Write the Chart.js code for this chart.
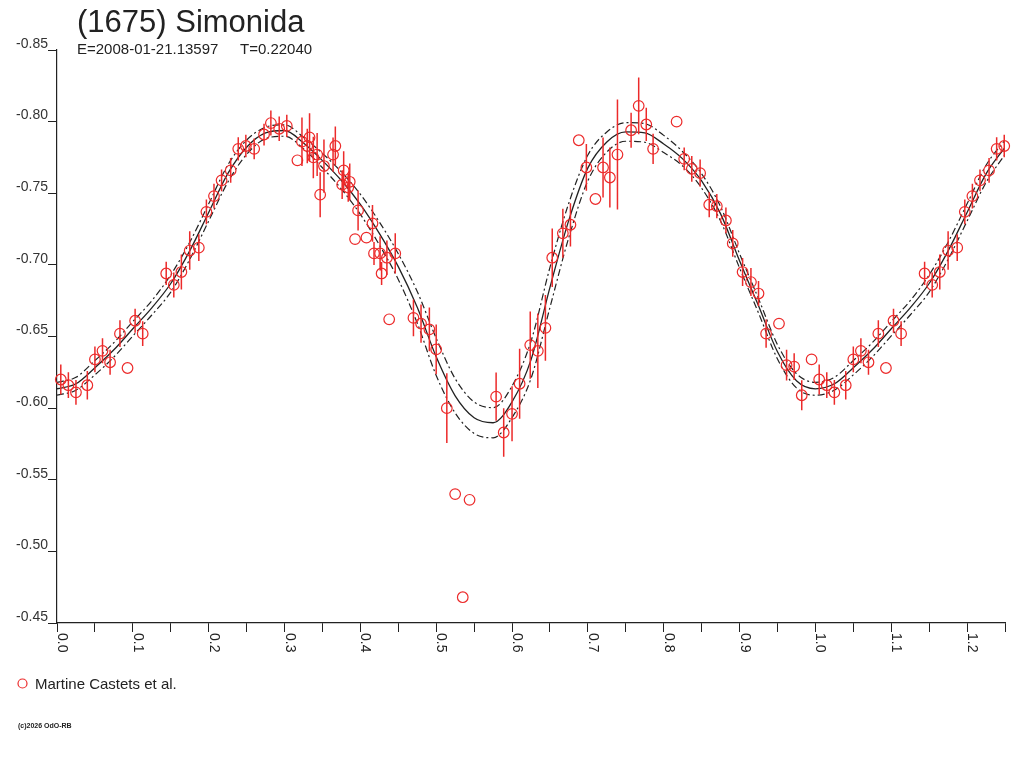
<!DOCTYPE html>
<html>
<head>
<meta charset="utf-8">
<title>(1675) Simonida</title>
<script src="https://cdn.jsdelivr.net/npm/chart.js@4.4.1/dist/chart.umd.min.js"></script>
<style>
  html, body { margin: 0; padding: 0; background: #fff; }
  #wrap { position: relative; width: 1024px; height: 768px; }
</style>
</head>
<body>
<div id="wrap"><canvas id="lc" width="1024" height="768"></canvas></div>
<script>
const title = '(1675) Simonida';
const epoch = 'E=2008-01-21.13597';
const period = 'T=0.22040';
const observer = 'Martine Castets et al.';
const credit = '(c)2026 OdO-RB';

// observations over one cycle; phases below 0.25 are shown again after 1.0
const obsPhase = [0.005, 0.015, 0.025, 0.040, 0.050, 0.060, 0.070, 0.083, 0.093, 0.103,
  0.113, 0.144, 0.154, 0.164, 0.175, 0.187, 0.197, 0.207, 0.217, 0.229,
  0.239, 0.249, 0.260, 0.273, 0.282, 0.293, 0.303, 0.317, 0.323, 0.330,
  0.333, 0.338, 0.343, 0.347, 0.352, 0.364, 0.367, 0.376, 0.378, 0.384,
  0.386, 0.393, 0.397, 0.408, 0.416, 0.418, 0.426, 0.428, 0.435, 0.438,
  0.446, 0.470, 0.480, 0.491, 0.500, 0.514, 0.525, 0.535, 0.544, 0.579,
  0.589, 0.600, 0.610, 0.624, 0.634, 0.644, 0.653, 0.667, 0.677, 0.688,
  0.698, 0.710, 0.720, 0.729, 0.739, 0.757, 0.767, 0.777, 0.786, 0.817,
  0.827, 0.837, 0.848, 0.860, 0.870, 0.882, 0.891, 0.904, 0.915, 0.925,
  0.935, 0.952, 0.962, 0.972, 0.982, 0.995];
const obsMag = [-0.620, -0.616, -0.611, -0.616, -0.634, -0.640, -0.632, -0.652, -0.628, -0.661,
  -0.652, -0.694, -0.686, -0.695, -0.710, -0.712, -0.737, -0.748, -0.759, -0.766,
  -0.781, -0.783, -0.781, -0.791, -0.799, -0.795, -0.797, -0.773, -0.786, -0.783,
  -0.789, -0.775, -0.777, -0.749, -0.769, -0.777, -0.783, -0.756, -0.766, -0.754,
  -0.758, -0.718, -0.738, -0.719, -0.729, -0.708, -0.708, -0.694, -0.705, -0.662,
  -0.708, -0.663, -0.659, -0.655, -0.641, -0.600, -0.540, -0.468, -0.536, -0.608,
  -0.583, -0.596, -0.617, -0.644, -0.640, -0.656, -0.705, -0.722, -0.728, -0.787,
  -0.768, -0.746, -0.768, -0.761, -0.777, -0.794, -0.811, -0.798, -0.781, -0.800,
  -0.774, -0.767, -0.764, -0.742, -0.741, -0.731, -0.715, -0.695, -0.688, -0.680,
  -0.652, -0.659, -0.630, -0.629, -0.609, -0.634];
const obsErr = [0.0105, 0.009, 0.0087, 0.010, 0.009, 0.0087, 0.0087, 0.0093, 0, 0.0084,
  0.0087, 0.0081, 0.0087, 0.0122, 0.0134, 0.0093, 0.0087, 0.0087, 0.0076, 0.0086,
  0.0081, 0.0079, 0.0073, 0.0076, 0.0087, 0.0086, 0.0078, 0, 0.0169, 0.012,
  0.0169, 0.0145, 0.015, 0.0157, 0.0186, 0.012, 0.0136, 0.010, 0.0134, 0.010,
  0.0128, 0, 0.014, 0, 0.0128, 0.008, 0.012, 0.008, 0.012, 0,
  0.014, 0.0128, 0.0133, 0.0153, 0.0174, 0.0244, 0, 0, 0, 0.0169,
  0.0169, 0.0192, 0.0244, 0.0235, 0.026, 0.023, 0.0204, 0.0171, 0.0151, 0,
  0.0163, 0, 0.021, 0.021, 0.0384, 0.0122, 0.0198, 0.0116, 0.0105, 0,
  0.0079, 0.009, 0.0095, 0.0087, 0.0085, 0.009, 0.0093, 0.0098, 0.0098, 0.0087,
  0.0098, 0, 0.0107, 0.0093, 0.0105, 0];

// fitted curve and its envelope, read every 0.025 in phase
const fitPhase = [0, 0.025, 0.05, 0.075, 0.1, 0.125, 0.15, 0.175, 0.2, 0.225,
  0.25, 0.275, 0.3, 0.325, 0.35, 0.375, 0.4, 0.425, 0.45, 0.475,
  0.5, 0.525, 0.55, 0.575, 0.6, 0.625, 0.65, 0.675, 0.7, 0.725,
  0.75, 0.775, 0.8, 0.825, 0.85, 0.875, 0.9, 0.925, 0.95, 0.975, 1.0];
const fitMag = [-0.6135, -0.6170, -0.6282, -0.6407, -0.6554, -0.6700, -0.6870, -0.7098, -0.7366, -0.7635,
  -0.7821, -0.7921, -0.7938, -0.7851, -0.7728, -0.7589, -0.7423, -0.7220, -0.6988, -0.6704,
  -0.6358, -0.6086, -0.5933, -0.5898, -0.6044, -0.6337, -0.6843, -0.7314, -0.7677, -0.7858,
  -0.7928, -0.7921, -0.7844, -0.7740, -0.7586, -0.7356, -0.7028, -0.6714, -0.6393, -0.6191, -0.6135];
const fitUpper = [-0.6180, -0.6215, -0.6332, -0.6457, -0.6604, -0.6750, -0.6930, -0.7158, -0.7426, -0.7695,
  -0.7871, -0.7961, -0.7978, -0.7891, -0.7778, -0.7649, -0.7493, -0.7300, -0.7078, -0.6814,
  -0.6488, -0.6206, -0.6043, -0.6003, -0.6154, -0.6467, -0.6983, -0.7434, -0.7767, -0.7928,
  -0.7993, -0.7986, -0.7904, -0.7790, -0.7636, -0.7406, -0.7078, -0.6764, -0.6443, -0.6241, -0.6180];
const fitLower = [-0.6090, -0.6125, -0.6232, -0.6357, -0.6504, -0.6650, -0.6810, -0.7038, -0.7306, -0.7575,
  -0.7771, -0.7881, -0.7898, -0.7811, -0.7678, -0.7529, -0.7353, -0.7140, -0.6898, -0.6594,
  -0.6228, -0.5966, -0.5823, -0.5793, -0.5934, -0.6207, -0.6703, -0.7194, -0.7587, -0.7788,
  -0.7863, -0.7856, -0.7784, -0.7690, -0.7536, -0.7306, -0.6978, -0.6664, -0.6343, -0.6141, -0.6090];

const xTicks = [0, 0.05, 0.1, 0.15, 0.2, 0.25, 0.3, 0.35, 0.4, 0.45, 0.5, 0.55, 0.6,
  0.65, 0.7, 0.75, 0.8, 0.85, 0.9, 0.95, 1.0, 1.05, 1.1, 1.15, 1.2, 1.25];
const xLabels = ['0.0', '0.1', '0.2', '0.3', '0.4', '0.5', '0.6', '0.7', '0.8', '0.9', '1.0', '1.1', '1.2'];
const yTicks = [-0.85, -0.80, -0.75, -0.70, -0.65, -0.60, -0.55, -0.50, -0.45];

const RED = '#ec2a2a';
const INK = '#222';
const FONT = '"Liberation Sans", Arial, sans-serif';

// points and error bars, repeating the start of the cycle past 1.0
const obsPts = [];
const barPts = [];
obsPhase.forEach((p, i) => {
  const reps = p < 0.25 ? [p, p + 1] : [p];
  reps.forEach(x => {
    obsPts.push({ x: x, y: obsMag[i] });
    if (obsErr[i] > 0) {
      barPts.push({ x: x, y: obsMag[i] - obsErr[i] }, { x: x, y: obsMag[i] + obsErr[i] }, { x: x, y: null });
    }
  });
});

function curve(vals) {
  const out = fitPhase.map((p, i) => ({ x: p, y: vals[i] }));
  fitPhase.forEach((p, i) => {
    if (p > 0 && p <= 0.25) out.push({ x: p + 1, y: vals[i] });
  });
  return out;
}

const decor = {
  id: 'decor',
  afterDraw(chart) {
    const ctx = chart.ctx;
    const xs = chart.scales.x;
    ctx.save();
    ctx.fillStyle = INK;
    ctx.textAlign = 'left';
    ctx.textBaseline = 'alphabetic';
    ctx.font = '31px ' + FONT;
    ctx.fillText(title, 77, 32);
    ctx.font = '15px ' + FONT;
    ctx.fillText(epoch, 77, 54);
    ctx.fillText(period, 240, 54);

    // x labels, turned a quarter clockwise, to the right of each tick
    ctx.font = '14px ' + FONT;
    xLabels.forEach(s => {
      const px = xs.getPixelForValue(parseFloat(s));
      ctx.save();
      ctx.translate(px + 1, 633);
      ctx.rotate(Math.PI / 2);
      ctx.fillText(s, 0, 0);
      ctx.restore();
    });

    // legend
    ctx.strokeStyle = RED;
    ctx.lineWidth = 1.2;
    ctx.beginPath();
    ctx.arc(22.5, 683.5, 4.5, 0, Math.PI * 2);
    ctx.stroke();
    ctx.font = '15px ' + FONT;
    ctx.fillText(observer, 35, 689);

    ctx.font = 'bold 7px ' + FONT;
    ctx.fillText(credit, 18, 728);
    ctx.restore();
  }
};

new Chart(document.getElementById('lc'), {
  type: 'line',
  data: {
    datasets: [
      {
        label: observer,
        data: obsPts,
        showLine: false,
        pointStyle: 'circle',
        pointRadius: 5.3,
        pointBorderWidth: 1.2,
        pointBorderColor: RED,
        pointBackgroundColor: 'rgba(0,0,0,0)',
        clip: false
      },
      {
        label: 'errors',
        data: barPts,
        borderColor: RED,
        borderWidth: 1.5,
        pointRadius: 0,
        tension: 0,
        spanGaps: false
      },
      {
        label: 'fit',
        data: curve(fitMag),
        borderColor: INK,
        borderWidth: 1.3,
        pointRadius: 0,
        cubicInterpolationMode: 'monotone'
      },
      {
        label: 'upper',
        data: curve(fitUpper),
        borderColor: INK,
        borderWidth: 1.2,
        borderDash: [7, 3, 2, 3],
        pointRadius: 0,
        cubicInterpolationMode: 'monotone'
      },
      {
        label: 'lower',
        data: curve(fitLower),
        borderColor: INK,
        borderWidth: 1.2,
        borderDash: [7, 3, 2, 3],
        pointRadius: 0,
        cubicInterpolationMode: 'monotone'
      }
    ]
  },
  options: {
    responsive: false,
    animation: false,
    events: [],
    layout: { padding: { top: 50, right: 19, left: 0, bottom: 0 } },
    plugins: { legend: { display: false }, tooltip: { enabled: false } },
    scales: {
      x: {
        type: 'linear',
        min: 0,
        max: 1.25,
        afterBuildTicks: s => { s.ticks = xTicks.map(v => ({ value: v })); },
        afterFit: s => { s.height = 145; },
        ticks: { display: false },
        grid: { drawOnChartArea: false, drawTicks: true, tickLength: 9, color: INK, lineWidth: 1 },
        border: { display: true, color: INK, width: 1.2 }
      },
      y: {
        type: 'linear',
        min: -0.85,
        max: -0.45,
        reverse: true,
        afterBuildTicks: s => { s.ticks = yTicks.map(v => ({ value: v })); },
        afterFit: s => { s.width = 57; },
        ticks: {
          padding: 0,
          labelOffset: -6,
          color: '#333',
          font: { family: FONT, size: 14 },
          callback: v => v.toFixed(2)
        },
        grid: { drawOnChartArea: false, drawTicks: true, tickLength: 9, color: INK, lineWidth: 1 },
        border: { display: true, color: INK, width: 1.2 }
      }
    }
  },
  plugins: [decor]
});
</script>
</body>
</html>
